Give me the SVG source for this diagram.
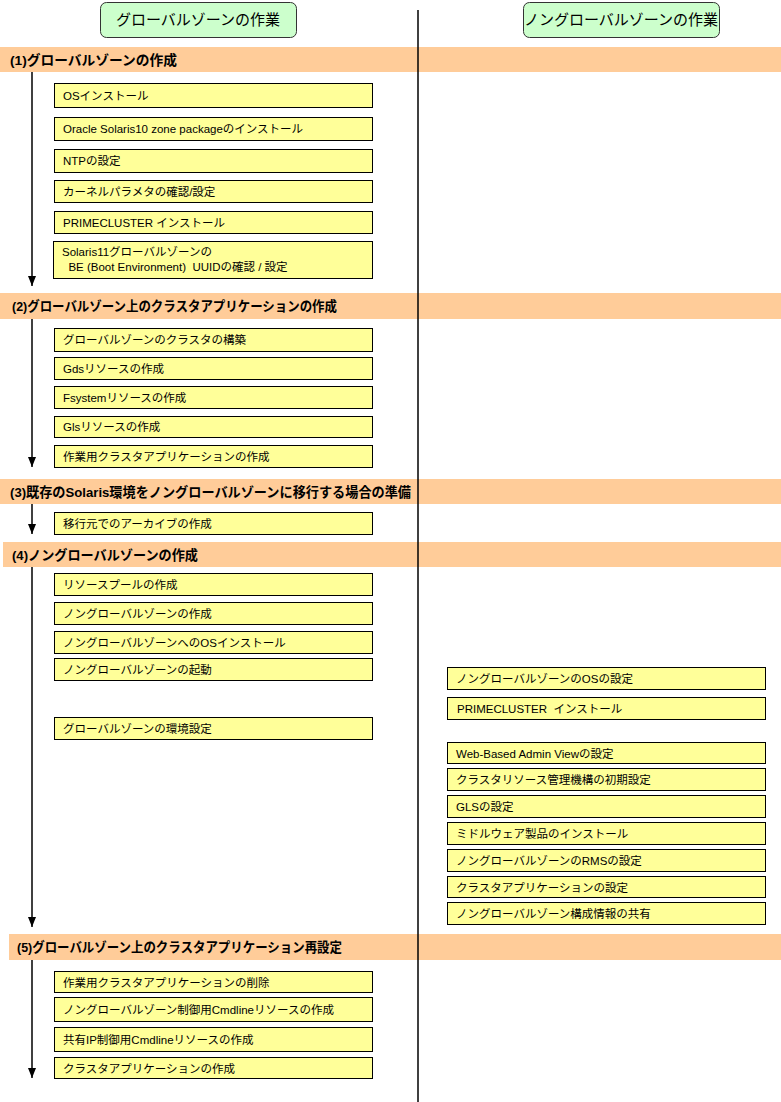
<svg xmlns="http://www.w3.org/2000/svg" width="781" height="1102" viewBox="0 0 781 1102">
<style>
text{font-family:"Liberation Sans","Noto Sans CJK JP",sans-serif;fill:#000;white-space:pre}
.hdr rect{fill:#ccffcc;stroke:#333;stroke-width:1}
.hdr text{font-size:15px;text-anchor:middle}
.bar rect{fill:#ffcc99}
.bar text{font-size:13.5px;font-weight:bold}
.box rect{fill:#ffff99;stroke:#000;stroke-width:1}
.box text{font-size:11.5px}
.conn line{stroke:#000;stroke-width:1.5}
.div{stroke:#000;stroke-width:1.5}
</style>
<defs>
<marker id="ah" viewBox="0 0 10 8" refX="10" refY="4" markerWidth="10" markerHeight="8" markerUnits="userSpaceOnUse" orient="auto">
<path d="M0,0 L10,4 L0,8 Z" fill="#000"/>
</marker>
</defs>

<g id="hdr-global" class="hdr"><rect x="100.5" y="2.5" width="196" height="35" rx="6"/><text x="198" y="25">グローバルゾーンの作業</text></g>
<g id="hdr-nonglobal" class="hdr"><rect x="523.5" y="2.5" width="196" height="35" rx="6"/><text x="621" y="25">ノングローバルゾーンの作業</text></g>

<g id="sec1" class="bar"><rect x="0" y="47" width="781" height="25"/><text x="10" y="65" textLength="167" lengthAdjust="spacingAndGlyphs">(1)グローバルゾーンの作成</text></g>
<g id="sec2" class="bar"><rect x="0" y="293" width="781" height="26"/><text x="12" y="311" textLength="325" lengthAdjust="spacingAndGlyphs">(2)グローバルゾーン上のクラスタアプリケーションの作成</text></g>
<g id="sec3" class="bar"><rect x="0" y="479" width="781" height="25"/><text x="10" y="497" textLength="401" lengthAdjust="spacingAndGlyphs">(3)既存のSolaris環境をノングローバルゾーンに移行する場合の準備</text></g>
<g id="sec4" class="bar"><rect x="3" y="542" width="778" height="25"/><text x="12" y="560" textLength="186" lengthAdjust="spacingAndGlyphs">(4)ノングローバルゾーンの作成</text></g>
<g id="sec5" class="bar"><rect x="9" y="934" width="772" height="26"/><text x="17" y="952" textLength="325" lengthAdjust="spacingAndGlyphs">(5)グローバルゾーン上のクラスタアプリケーション再設定</text></g>

<line class="div" x1="418" y1="10" x2="418" y2="1102"/>

<g id="b1" class="box"><rect x="54.5" y="83.5" width="318" height="24"/><text x="63" y="100">OSインストール</text></g>
<g id="b2" class="box"><rect x="54.5" y="117.5" width="318" height="23"/><text x="63" y="133">Oracle Solaris10 zone packageのインストール</text></g>
<g id="b3" class="box"><rect x="54.5" y="149.5" width="318" height="23"/><text x="63" y="165">NTPの設定</text></g>
<g id="b4" class="box"><rect x="54.5" y="180.5" width="318" height="22"/><text x="63" y="196">カーネルパラメタの確認/設定</text></g>
<g id="b5" class="box"><rect x="54.5" y="211.5" width="318" height="22"/><text x="63" y="227">PRIMECLUSTER インストール</text></g>
<g id="b6" class="box"><rect x="53.5" y="241.5" width="319" height="37"/><text x="62" y="256">Solaris11グローバルゾーンの</text><text x="62" y="271">  BE (Boot Environment)  UUIDの確認 / 設定</text></g>

<g id="b7" class="box"><rect x="54.5" y="328.5" width="318" height="23"/><text x="63" y="344">グローバルゾーンのクラスタの構築</text></g>
<g id="b8" class="box"><rect x="54.5" y="357.5" width="318" height="22"/><text x="63" y="373">Gdsリソースの作成</text></g>
<g id="b9" class="box"><rect x="54.5" y="386.5" width="318" height="22"/><text x="63" y="402">Fsystemリソースの作成</text></g>
<g id="b10" class="box"><rect x="54.5" y="416.5" width="318" height="21"/><text x="63" y="431">Glsリソースの作成</text></g>
<g id="b11" class="box"><rect x="54.5" y="445.5" width="318" height="22"/><text x="63" y="461">作業用クラスタアプリケーションの作成</text></g>

<g id="b12" class="box"><rect x="54.5" y="512.5" width="318" height="22"/><text x="63" y="528">移行元でのアーカイブの作成</text></g>

<g id="b13" class="box"><rect x="54.5" y="573.5" width="318" height="22"/><text x="63" y="589">リソースプールの作成</text></g>
<g id="b14" class="box"><rect x="54.5" y="602.5" width="318" height="22"/><text x="63" y="618">ノングローバルゾーンの作成</text></g>
<g id="b15" class="box"><rect x="54.5" y="631.5" width="318" height="22"/><text x="63" y="647">ノングローバルゾーンへのOSインストール</text></g>
<g id="b16" class="box"><rect x="54.5" y="658.5" width="318" height="22"/><text x="63" y="674">ノングローバルゾーンの起動</text></g>
<g id="b17" class="box"><rect x="54.5" y="717.5" width="318" height="22"/><text x="63" y="733">グローバルゾーンの環境設定</text></g>

<g id="r1" class="box"><rect x="447.5" y="667.5" width="318" height="22"/><text x="456" y="683">ノングローバルゾーンのOSの設定</text></g>
<g id="r2" class="box"><rect x="447.5" y="697.5" width="318" height="22"/><text x="457" y="713">PRIMECLUSTER  インストール</text></g>
<g id="r3" class="box"><rect x="447.5" y="742.5" width="318" height="21"/><text x="456" y="758">Web-Based Admin Viewの設定</text></g>
<g id="r4" class="box"><rect x="447.5" y="768.5" width="318" height="22"/><text x="456" y="784">クラスタリソース管理機構の初期設定</text></g>
<g id="r5" class="box"><rect x="447.5" y="795.5" width="318" height="22"/><text x="456" y="811">GLSの設定</text></g>
<g id="r6" class="box"><rect x="447.5" y="822.5" width="318" height="22"/><text x="456" y="838">ミドルウェア製品のインストール</text></g>
<g id="r7" class="box"><rect x="447.5" y="849.5" width="318" height="22"/><text x="456" y="865">ノングローバルゾーンのRMSの設定</text></g>
<g id="r8" class="box"><rect x="447.5" y="876.5" width="318" height="21"/><text x="456" y="892">クラスタアプリケーションの設定</text></g>
<g id="r9" class="box"><rect x="447.5" y="902.5" width="318" height="22"/><text x="456" y="918">ノングローバルゾーン構成情報の共有</text></g>

<g id="b18" class="box"><rect x="54.5" y="971.5" width="318" height="21"/><text x="63" y="987">作業用クラスタアプリケーションの削除</text></g>
<g id="b19" class="box"><rect x="54.5" y="997.5" width="318" height="24"/><text x="63" y="1014">ノングローバルゾーン制御用Cmdlineリソースの作成</text></g>
<g id="b20" class="box"><rect x="54.5" y="1027.5" width="318" height="24"/><text x="63" y="1044">共有IP制御用Cmdlineリソースの作成</text></g>
<g id="b21" class="box"><rect x="54.5" y="1057.5" width="318" height="21"/><text x="63" y="1073">クラスタアプリケーションの作成</text></g>

<g id="connectors" class="conn">
<line x1="32" y1="72" x2="32" y2="286" marker-end="url(#ah)"/>
<line x1="32" y1="319" x2="32" y2="467" marker-end="url(#ah)"/>
<line x1="32" y1="504" x2="32" y2="534" marker-end="url(#ah)"/>
<line x1="32" y1="567" x2="32" y2="927" marker-end="url(#ah)"/>
<line x1="32" y1="960" x2="32" y2="1078" marker-end="url(#ah)"/>
</g>
</svg>
